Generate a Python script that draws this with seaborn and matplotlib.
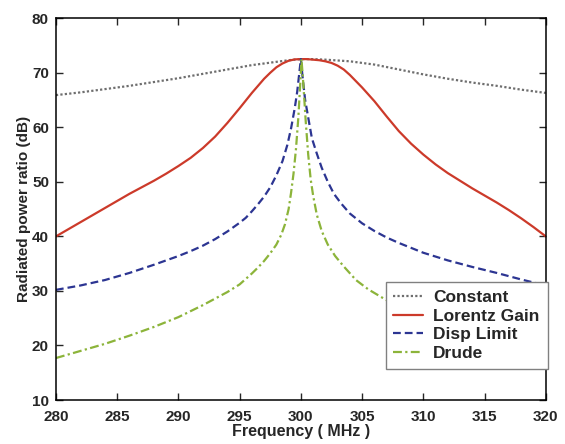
import matplotlib
matplotlib.use("Agg")
import matplotlib.pyplot as plt
import pandas as pd
import seaborn as sns

# values (frequency in MHz, ratio in dB)
const_f = [280, 282, 284, 286, 288, 290, 292, 294, 296, 298, 299, 300, 301, 302, 304, 306, 308, 310, 312, 314, 316, 318, 320]
const_db = [65.9, 66.4, 67.0, 67.6, 68.3, 69.0, 69.8, 70.6, 71.4, 72.0, 72.3, 72.5, 72.5, 72.4, 72.1, 71.5, 70.6, 69.7,
            68.9, 68.2, 67.6, 66.9, 66.3]

lorentz_f = [280, 281, 282, 283, 284, 285, 286, 287, 288, 289, 290, 291, 292, 293, 294, 295, 296, 297, 297.5, 298,
             298.5, 299, 299.5, 300, 300.5, 301, 301.5, 302, 302.5, 303, 303.5, 304, 305, 306, 307, 308, 309, 310,
             311, 312, 313, 314, 315, 316, 317, 318, 319, 320]
lorentz_db = [40.0, 41.3, 42.6, 43.9, 45.2, 46.5, 47.8, 49.0, 50.2, 51.5, 52.9, 54.4, 56.2, 58.3, 60.8, 63.5, 66.3,
              68.9, 70.0, 71.0, 71.7, 72.2, 72.45, 72.5, 72.5, 72.4, 72.3, 72.1, 71.8, 71.3, 70.6, 69.6, 67.3, 64.8,
              62.0, 59.3, 57.0, 55.0, 53.2, 51.6, 50.2, 48.8, 47.5, 46.2, 44.8, 43.3, 41.7, 40.0]

disp_f = [280, 282, 284, 286, 288, 290, 291, 292, 293, 294, 295, 295.5, 296, 296.5, 297, 297.5, 298, 298.5, 298.9,
          299.2, 299.5, 299.7, 299.85, 300, 300.15, 300.35, 300.6, 300.9, 301.3, 301.7, 302.2, 302.7, 303.3, 304,
          305, 306, 307, 308, 309, 310, 312, 314, 316, 318, 320]
disp_db = [30.2, 31.0, 32.0, 33.3, 34.8, 36.4, 37.3, 38.3, 39.5, 40.9, 42.5, 43.4, 44.6, 45.9, 47.3, 49.0, 51.2, 53.8,
           56.8, 59.8, 63.5, 66.5, 69.5, 72.5, 69.0, 65.0, 61.8, 58.0, 55.2, 52.6, 50.0, 47.8, 46.0, 44.2, 42.4,
           41.0, 39.8, 38.8, 37.9, 37.0, 35.6, 34.4, 33.3, 32.1, 31.0]

drude_f = [280, 282, 284, 286, 288, 290, 291, 292, 293, 294, 295, 295.5, 296, 296.5, 297, 297.5, 298, 298.4, 298.7,
           299, 299.2, 299.4, 299.6, 299.8, 299.95, 300.05, 300.2, 300.4, 300.6, 300.8, 301.0, 301.3, 301.7, 302.2,
           302.8, 303.5, 304.5, 305.5, 307, 309, 311, 313, 315, 317, 318.5, 320]
drude_db = [17.7, 19.0, 20.3, 21.8, 23.4, 25.2, 26.3, 27.4, 28.6, 29.8, 31.2, 32.2, 33.2, 34.3, 35.5, 36.9, 38.5,
            40.3, 42.2, 45.0, 48.0, 51.5, 56.0, 62.0, 68.0, 72.5, 68.0, 61.0, 55.0, 50.5, 47.5, 44.0, 41.0, 38.5,
            36.4, 34.5, 32.0, 30.3, 28.3, 26.2, 24.5, 23.0, 21.7, 20.4, 19.5, 18.6]

labels = ["Constant", "Lorentz Gain", "Disp Limit", "Drude"]

df = pd.concat([
    pd.DataFrame({"freq": const_f, "db": const_db, "curve": labels[0]}),
    pd.DataFrame({"freq": lorentz_f, "db": lorentz_db, "curve": labels[1]}),
    pd.DataFrame({"freq": disp_f, "db": disp_db, "curve": labels[2]}),
    pd.DataFrame({"freq": drude_f, "db": drude_db, "curve": labels[3]}),
])

sns.set_style("ticks")
plt.rcParams["font.family"] = ["Liberation Sans", "DejaVu Sans"]
plt.rcParams["font.weight"] = "bold"

palette = {"Constant": "#6e6e6e", "Lorentz Gain": "#cc3a2a", "Disp Limit": "#2c3592", "Drude": "#8cb43a"}
dashes = {"Constant": (1, 1), "Lorentz Gain": "", "Disp Limit": (3.5, 1.8), "Drude": (4, 1.5, 1, 1.5)}

fig = plt.figure(figsize=(5.65, 4.44), dpi=100)
ax = fig.add_axes([0.099, 0.099, 0.867, 0.860])
sns.lineplot(ax=ax, data=df, x="freq", y="db", hue="curve", style="curve", hue_order=labels, style_order=labels,
             palette=palette, dashes=dashes, estimator=None, sort=False, linewidth=1.6)

ax.set_xlim(280, 320)
ax.set_ylim(10, 80)
ax.set_xticks(range(280, 321, 5))
ax.set_yticks(range(10, 81, 10))
ax.tick_params(direction="in", top=True, right=True, length=5, width=1, labelsize=11)
ax.tick_params(axis="x", pad=7)
ax.tick_params(axis="y", pad=5)
for lab in ax.get_xticklabels() + ax.get_yticklabels():
    lab.set_fontweight("bold")
for sp in ax.spines.values():
    sp.set_linewidth(1.1)
    sp.set_color("black")
ax.set_xlabel("Frequency ( MHz )", fontsize=11.5, fontweight="bold", labelpad=0)
ax.set_ylabel("Radiated power ratio (dB)", fontsize=11, fontweight="bold", labelpad=1)

leg = ax.legend(loc="upper left", bbox_to_anchor=(0.673, 0.309), prop={"size": 12.5, "weight": "bold"},
                frameon=True, fancybox=False, handlelength=1.7, borderpad=0.45, labelspacing=0.2,
                handletextpad=0.6, borderaxespad=0)
leg.get_frame().set_edgecolor("#808080")
leg.get_frame().set_linewidth(1.0)
leg.get_frame().set_alpha(1)

fig.savefig("out.png", dpi=100)
